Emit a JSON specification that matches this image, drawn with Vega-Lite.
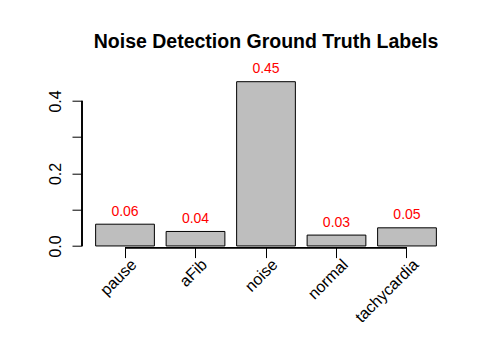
{
  "$schema": "https://vega.github.io/schema/vega-lite/v6.json",
  "autosize": "none",
  "width": 368,
  "height": 165.9,
  "padding": {"left": 82, "top": 81.7, "right": 41, "bottom": 102.4},
  "background": "white",
  "config": {"view": {"stroke": null}, "font": "Liberation Sans"},
  "title": {
    "text": "Noise Detection Ground Truth Labels",
    "fontSize": 19.5,
    "fontWeight": "bold",
    "color": "black",
    "anchor": "middle",
    "frame": "group",
    "baseline": "alphabetic",
    "offset": -5
  },
  "data": {
    "values": [
      {"label": "pause", "value": 0.06},
      {"label": "aFib", "value": 0.04},
      {"label": "noise", "value": 0.453},
      {"label": "normal", "value": 0.03},
      {"label": "tachycardia", "value": 0.05}
    ]
  },
  "layer": [
    {
      "mark": {"type": "bar", "fill": "#BEBEBE", "stroke": "black", "strokeWidth": 1},
      "encoding": {
        "x": {
          "field": "label",
          "type": "nominal",
          "sort": null,
          "title": null,
          "scale": {"paddingInner": 0.16667, "paddingOuter": 0.1933},
          "axis": {
            "domain": false,
            "grid": false,
            "ticks": true,
            "tickSize": 10,
            "tickColor": "black",
            "labelAngle": -45,
            "labelAlign": "right",
            "labelBaseline": "middle",
            "labelOffset": 9,
            "labelPadding": 4,
            "labelFontSize": 16,
            "labelColor": "black"
          }
        },
        "y": {
          "field": "value",
          "type": "quantitative",
          "title": null,
          "scale": {"domain": [-0.00453, 0.453], "nice": false, "zero": false},
          "axis": {
            "values": [0, 0.1, 0.2, 0.3, 0.4],
            "labelExpr": "datum.value == 0.1 || datum.value == 0.3 ? '' : format(datum.value, '.1f')",
            "domain": false,
            "grid": false,
            "tickSize": 10,
            "tickColor": "black",
            "labelAngle": -90,
            "labelAlign": "center",
            "labelBaseline": "alphabetic",
            "labelPadding": 12,
            "labelFontSize": 16,
            "labelColor": "black"
          }
        },
        "y2": {"datum": 0}
      }
    },
    {
      "mark": {"type": "text", "color": "#FF0000", "fontSize": 14, "baseline": "alphabetic", "dy": -8.5},
      "encoding": {
        "x": {"field": "label", "type": "nominal", "sort": null},
        "y": {"field": "value", "type": "quantitative"},
        "text": {"field": "value", "type": "quantitative", "format": ".2f"}
      }
    },
    {
      "mark": {"type": "rule", "color": "black", "strokeWidth": 1},
      "encoding": {
        "x": {"value": 0},
        "y": {"datum": 0},
        "y2": {"datum": 0.4}
      }
    },
    {
      "mark": {"type": "rule", "color": "black", "strokeWidth": 1.2},
      "encoding": {
        "x": {"datum": "pause", "bandPosition": 0.5},
        "x2": {"datum": "tachycardia", "bandPosition": 0.5},
        "y": {"datum": -0.00453}
      }
    }
  ]
}
